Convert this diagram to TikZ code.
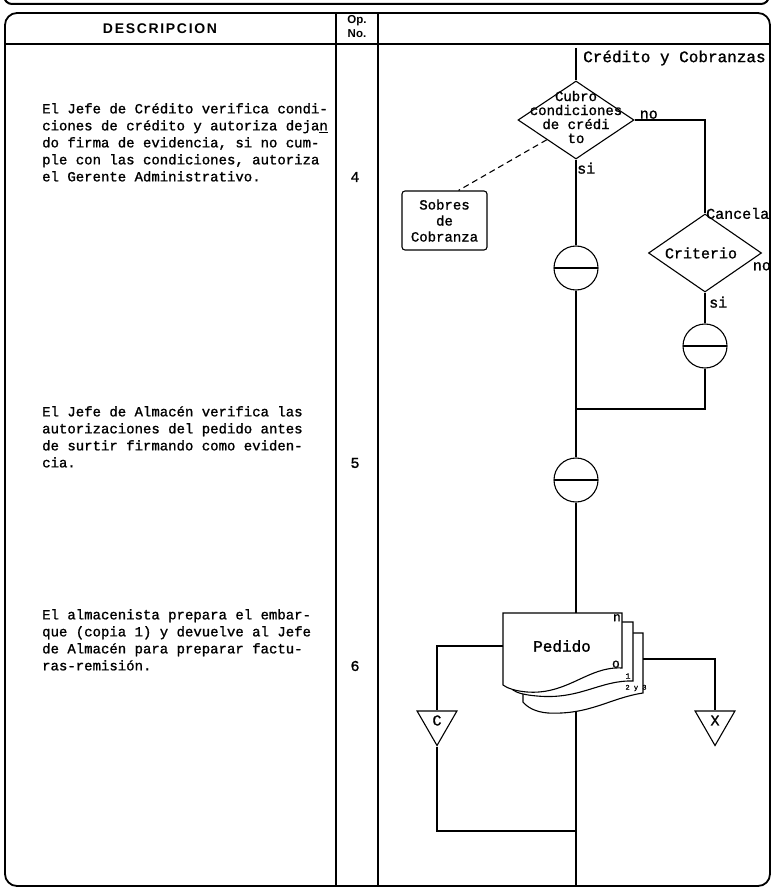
\documentclass[tikz,border=0pt]{standalone}
\usepackage{fontspec}
\setmainfont{Liberation Serif}
\setmonofont[FakeBold=1.2]{Liberation Mono}
\setsansfont{Liberation Sans}
\newfontfamily\hdrfont[LetterSpace=12]{Liberation Sans}
\usetikzlibrary{shapes.geometric,positioning}

\tikzset{
  flow/.style={line width=1.1pt},
  frameline/.style={line width=1.8pt},
  decision/.style={diamond,draw,line width=1.1pt,inner sep=0pt},
  inspect/.style={circle,draw,line width=1.1pt,minimum size=44pt,inner sep=0pt,
    path picture={\draw[line width=1.1pt] (path picture bounding box.west) -- (path picture bounding box.east);}},
  offpage/.style={regular polygon,regular polygon sides=3,shape border rotate=180,
    draw,line width=1.1pt,minimum size=46pt,inner sep=0pt},
  desc/.style={anchor=north west,align=left,inner sep=0pt,font=\ttfamily\fontsize{14}{17}\selectfont},
  typed/.style={inner sep=1pt,font=\ttfamily\fontsize{#1}{#1}\selectfont},
  docpage/.style={draw,fill=white,line width=1.1pt},
}

\begin{document}
\begin{tikzpicture}[x=1pt,y=-1pt]
\useasboundingbox (0,0) rectangle (773,890);

% frame of the sheet
\draw[line width=2pt,rounded corners=8pt] (4,-12) -- (4,4) -- (769,4) -- (769,-12);
\draw[frameline,rounded corners=12pt] (5,13) rectangle (770,886);
\draw[line width=2pt] (336,13) -- (336,886);
\draw[line width=2pt] (378,13) -- (378,886);
\draw[frameline] (5,44) -- (770,44);

% headers
\node[font=\hdrfont\bfseries\fontsize{14}{14}\selectfont] (hdesc) at (160,29) {DESCRIPCION};
\node[font=\sffamily\bfseries\fontsize{11.5}{14}\selectfont,align=center,inner sep=0pt] (hop) at (357,27) {Op.\\No.};

% description column
\node[desc] (d4) at (42,103) {El Jefe de Crédito verifica condi-\\ciones de crédito y autoriza deja\underline{n}\\do firma de evidencia, si no cum-\\ple con las condiciones, autoriza\\el Gerente Administrativo.};
\node[desc] (d5) at (42,406) {El Jefe de Almacén verifica las\\autorizaciones del pedido antes\\de surtir firmando como eviden-\\cia.};
\node[desc] (d6) at (42,609) {El almacenista prepara el embar-\\que (copia 1) y devuelve al Jefe\\de Almacén para preparar factu-\\ras-remisión.};
\node[typed=15] (n4) at (355,177) {4};
\node[typed=15] (n5) at (355,463) {5};
\node[typed=15] (n6) at (355,666) {6};

% flow
\coordinate (top) at (576,48);
\node[typed=16,anchor=west] (area) at (582,58) {Crédito y Cobranzas};
\node[decision,minimum width=116pt,minimum height=78pt] (cond) at (576,120) {};
\node[align=center,inner sep=0pt,font=\ttfamily\fontsize{14}{14}\selectfont] (condtxt) at (576,117) {Cubro\\condiciones\\de crédi\\to};
\node[decision,minimum width=113pt,minimum height=78pt] (crit) at (705,253) {};
\node[typed=15] (crittxt) at (701,253) {Criterio};
\node[inspect] (insp1) at (576,268) {};
\node[inspect] (insp2) at (705,346) {};
\node[inspect] (insp3) at (576,480) {};
\node[draw,line width=1.1pt,rounded corners=3pt,minimum width=85pt,minimum height=59pt,
  align=center,inner sep=0pt,font=\ttfamily\fontsize{14}{16}\selectfont] (sobres) at (444.5,220.5) {Sobres\\de\\Cobranza};

\node[typed=15,anchor=south west,xshift=4pt] at (cond.east) {no};
\node[typed=15,anchor=north west,yshift=-2pt] at (cond.south) {si};
\node[typed=15,anchor=west] at (crit.north) {Cancela};
\node[typed=15,anchor=north east,xshift=10pt,yshift=-8pt] at (crit.east) {no};
\node[typed=15,anchor=north west,xshift=3pt,yshift=-3pt] at (crit.south) {si};

% stack of copies
\draw[docpage] (523,633) -- (643,633) -- (643,693) .. controls (610,698) and (590,715) .. (548,713) .. controls (535,712) and (527,707) .. (523,702) -- cycle;
\draw[docpage] (513,622) -- (633,622) -- (633,681) .. controls (600,680) and (580,700) .. (537,696) .. controls (525,695) and (517,693) .. (513,690) -- cycle;
\draw[docpage] (503,613) -- (622,613) -- (622,668) .. controls (588,666) and (568,695) .. (527,692) .. controls (515,691) and (507,688) .. (503,685) -- cycle;
\node[font=\ttfamily\fontsize{16}{16}\selectfont] (ped) at (562,646) {Pedido};
\node[typed=13,anchor=north east,inner sep=0pt] (cn) at (621,614) {n};
\node[typed=13,anchor=south east,inner sep=0pt] (co) at (620,668) {o};
\node[typed=8,inner sep=0pt] (c1) at (628,676) {1};
\node[typed=7,inner sep=0pt] (c23) at (636,688) {2 y 3};
\coordinate (pedtop) at (576,613);
\coordinate (pedleft) at (503,646);
\coordinate (pedright) at (643,659);
\coordinate (pedbot) at (576,712);
\coordinate (bottom) at (576,886);
\coordinate (join) at (576,831);

\node[offpage] (offc) at (437,722.5) {};
\node[typed=15,yshift=2pt] at (offc) {C};
\node[offpage] (offx) at (715,722.5) {};
\node[typed=15,yshift=2pt] at (offx) {X};

% connectors
\draw[flow] (top) -- (cond.north);
\draw[flow] (cond.south) -- (insp1.north);
\draw[flow] (cond.east) -| (crit.north);
\draw[flow] (crit.south) -- (insp2.north);
\draw[flow] (insp2.south) |- (576,409);
\draw[flow] (insp1.south) -- (insp3.north);
\draw[flow] (insp3.south) -- (pedtop);
\draw[flow] (pedleft) -| (offc.north);
\draw[flow] (pedright) -| (offx.north);
\draw[flow] (offc.south) |- (join);
\draw[flow] (pedbot) -- (bottom);
\draw[flow,dashed,dash pattern=on 6pt off 4pt] (cond.south west) -- ([xshift=14pt]sobres.north);
\end{tikzpicture}
\end{document}
